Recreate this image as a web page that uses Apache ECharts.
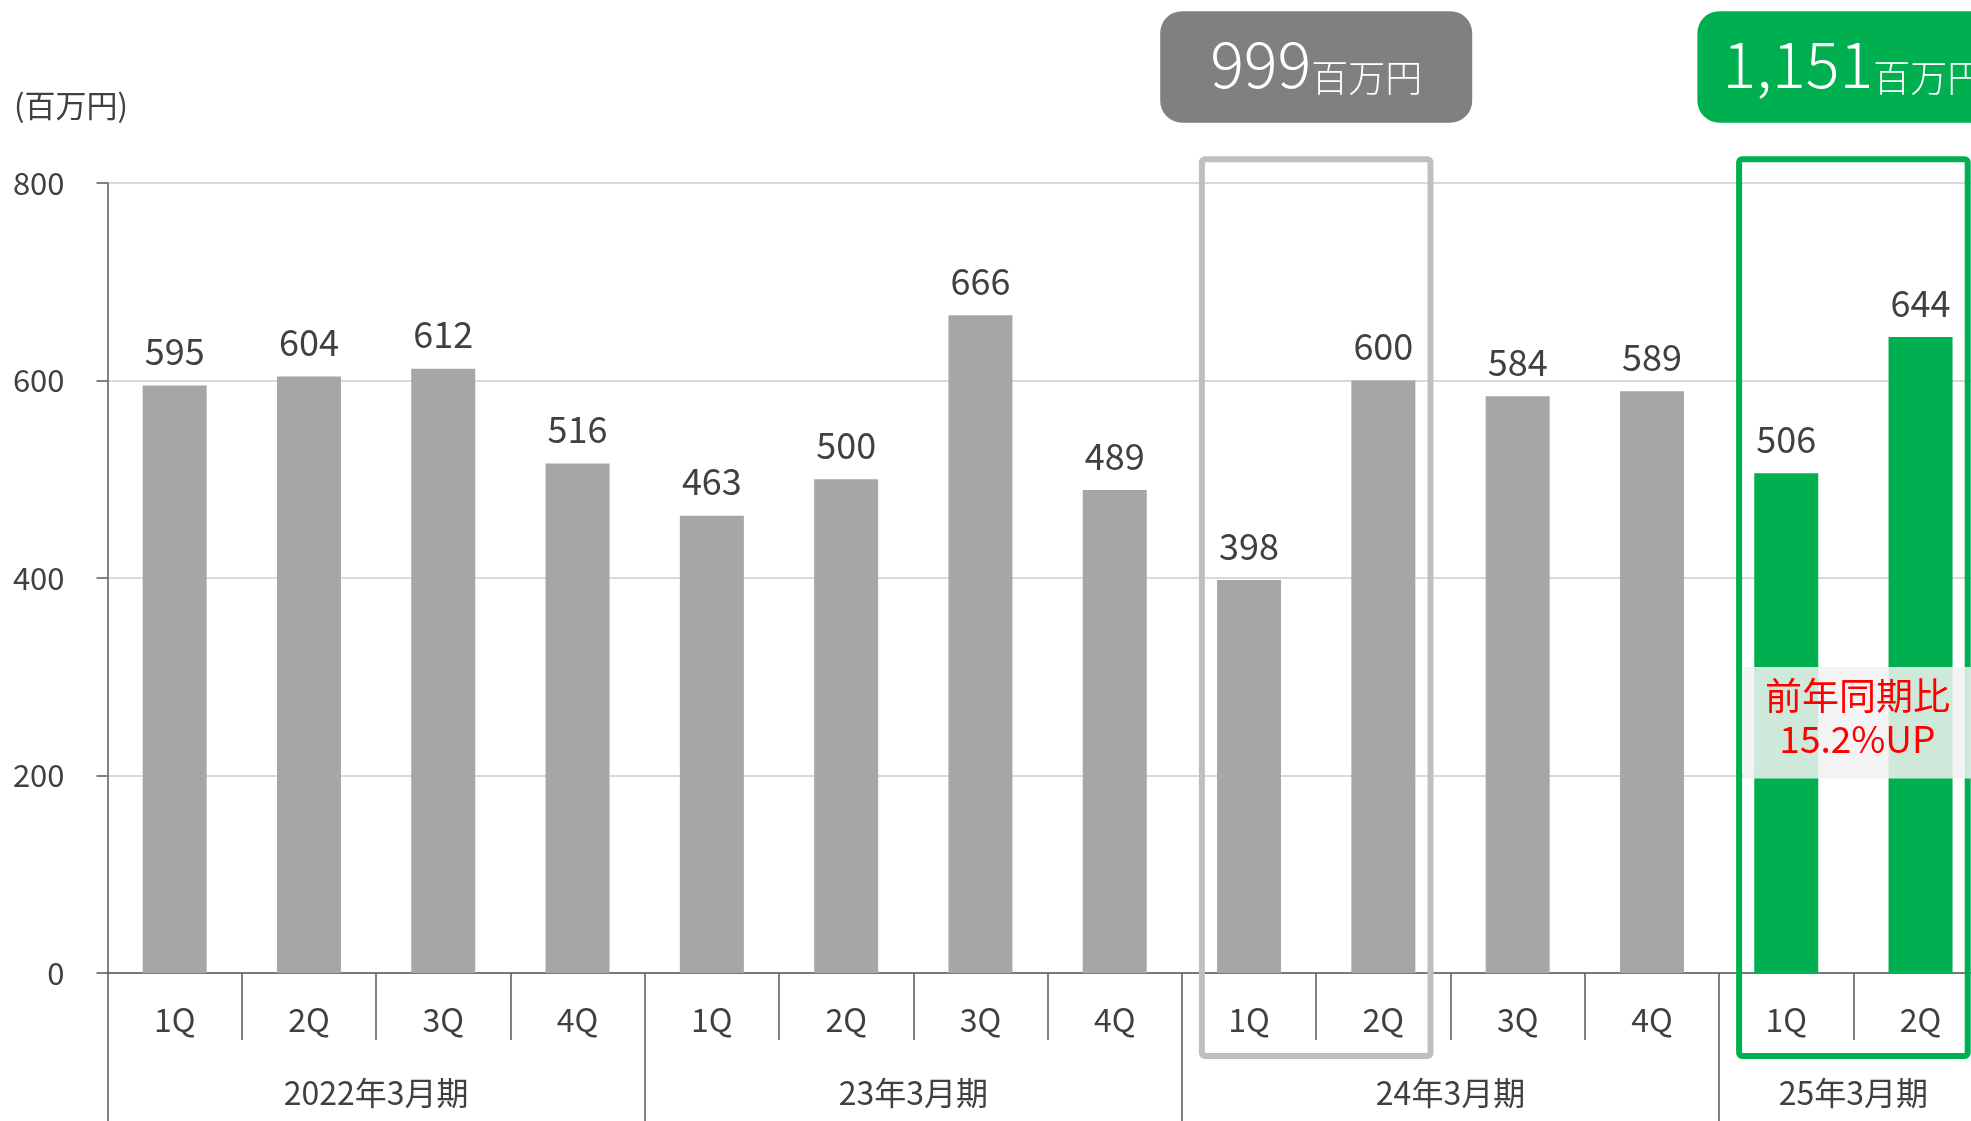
<!DOCTYPE html>
<html>
<head>
<meta charset="utf-8">
<script src="https://cdn.jsdelivr.net/npm/echarts@6/dist/echarts.min.js"></script>
<style>
html,body{margin:0;padding:0;background:#ffffff;}
#c{width:1971px;height:1121px;}
</style>
</head>
<body>
<div id="c"></div>
<script>
// ---------- data ----------
const quarters = ['1Q','2Q','3Q','4Q','1Q','2Q','3Q','4Q','1Q','2Q','3Q','4Q','1Q','2Q'];
const sales = [595,604,612,516,463,500,666,489,398,600,584,589,506,644];
const fiscalYears = ['2022年3月期','23年3月期','24年3月期','25年3月期'];
const fiscalYearSizes = [4,4,4,2];
const highlightIdx = [12,13];
const compareStarts = [8,12];
const compareTotals = ['999','1,151'];
const unitLabel = '百万円';
const axisUnit = '(百万円)';
const growthText = ['前年同期比','15.2%UP'];
const yMin = 0, yMax = 800, yStep = 200;

// ---------- layout / style ----------
const FONT = "'Noto Sans CJK JP','Noto Sans',sans-serif";
const GRID_LEFT = 107.5, GRID_TOP = 183, GRID_H = 790;
const BAND = 134.3;
const GRID_W = BAND * quarters.length;
const AXIS_COLOR = '#595959';
const TEXT_COLOR = '#404040';
const GRAY = '#A6A6A6', GREEN = '#00B050';
const boxColors = ['#808080', GREEN];
const outlineColors = ['#BFBFBF', GREEN];

// year axis labels placed on the category left of each group's centre, shifted half a band
const yearAxisData = new Array(quarters.length).fill('');
const groupStarts = new Set();
let pos = 0;
fiscalYears.forEach((y, k) => {
  groupStarts.add(pos);
  yearAxisData[pos + fiscalYearSizes[k] / 2 - 1] = y;
  pos += fiscalYearSizes[k];
});

const option = {
  animation: false,
  backgroundColor: '#ffffff',
  textStyle: { fontFamily: FONT },
  title: {
    text: axisUnit, left: 9, top: 85,
    textStyle: { fontSize: 31, fontWeight: 'normal', color: TEXT_COLOR, fontFamily: FONT }
  },
  grid: { left: GRID_LEFT, top: GRID_TOP, width: GRID_W, height: GRID_H, containLabel: false, outerBoundsMode: 'none' },
  xAxis: [
    {
      type: 'category', data: quarters, position: 'bottom',
      axisLine: { show: true, lineStyle: { color: AXIS_COLOR, width: 1.5 } },
      axisTick: { show: true, interval: 0, length: 67, lineStyle: { color: AXIS_COLOR, width: 1.5 } },
      axisLabel: { interval: 0, margin: 31, fontSize: 32, color: TEXT_COLOR, fontFamily: FONT },
      splitLine: { show: false }
    },
    {
      type: 'category', data: yearAxisData, position: 'bottom',
      axisLine: { show: false },
      axisTick: { show: true, interval: (i) => groupStarts.has(i), length: 150, lineStyle: { color: AXIS_COLOR, width: 1.5 } },
      axisLabel: {
        interval: 0, margin: 104, hideOverlap: false,
        formatter: (v) => v ? '{y|' + v + '}' : '',
        rich: { y: { fontSize: 32, color: TEXT_COLOR, fontFamily: FONT, padding: [0, 0, 0, BAND] } }
      },
      splitLine: { show: false }
    }
  ],
  yAxis: {
    type: 'value', min: yMin, max: yMax, interval: yStep,
    axisLine: { show: true, lineStyle: { color: AXIS_COLOR, width: 1.5 } },
    axisTick: { show: true, length: 11, lineStyle: { color: AXIS_COLOR, width: 1.5 } },
    axisLabel: { margin: 43, fontSize: 31, color: TEXT_COLOR, fontFamily: FONT },
    splitLine: { show: true, lineStyle: { color: '#D9D9D9', width: 2 } }
  },
  series: [{
    type: 'bar', xAxisIndex: 0, yAxisIndex: 0,
    barWidth: 64,
    data: sales.map((v, i) => ({ value: v, itemStyle: { color: highlightIdx.includes(i) ? GREEN : GRAY } })),
    label: { show: true, position: 'top', distance: 16, fontSize: 36, color: TEXT_COLOR, fontFamily: FONT }
  }]
};

const chart = echarts.init(document.getElementById('c'), null, { renderer: 'canvas' });
chart.setOption(option);

const px = (i, v) => chart.convertToPixel({ xAxisIndex: 0, yAxisIndex: 0 }, [i, v]);
const bw = px(1, 0)[0] - px(0, 0)[0];
const els = [];
compareStarts.forEach((s, k) => {
  const cx = px(s, 0)[0] + bw / 2;
  const oTop = px(0, 824)[1], oBot = px(0, -84)[1];
  els.push({
    type: 'rect', z: 100,
    shape: { x: cx - bw + 20, y: oTop, width: 2 * bw - 40, height: oBot - oTop, r: 3 },
    style: { fill: 'none', stroke: outlineColors[k], lineWidth: 6 }
  });
  const bTop = px(0, 974)[1], bBot = px(0, 861)[1];
  els.push({
    type: 'rect', z: 100,
    shape: { x: cx - 156, y: bTop, width: 312, height: bBot - bTop, r: 22 },
    style: { fill: boxColors[k] }
  });
  els.push({
    type: 'text', z: 101, x: cx, y: (bTop + bBot) / 2 - 6,
    style: {
      text: '{b|' + compareTotals[k] + '}{s|' + unitLabel + '}',
      align: 'center', verticalAlign: 'middle',
      rich: {
        b: { fontSize: 63, fontWeight: 300, fill: '#ffffff', color: '#ffffff', fontFamily: FONT, verticalAlign: 'bottom', lineHeight: 70 },
        s: { fontSize: 37, fontWeight: 300, fill: '#ffffff', color: '#ffffff', fontFamily: FONT, verticalAlign: 'bottom', lineHeight: 70 }
      }
    }
  });
});
// growth callout within the highlighted group
{
  const s = compareStarts[1];
  const cx = px(s, 0)[0] + bw / 2;
  const left = cx - bw + 24;
  const top = px(0, 310)[1], bot = px(0, 197)[1];
  els.push({
    type: 'rect', z: 110,
    shape: { x: left, y: top, width: 2 * bw, height: bot - top },
    style: { fill: 'rgba(242,242,242,0.85)' }
  });
  els.push({
    type: 'text', z: 111, x: cx + 4, y: (top + bot) / 2 - 5,
    style: {
      text: growthText.join('\n'), align: 'center', verticalAlign: 'middle',
      fontSize: 37, lineHeight: 43, fill: '#FF0000', fontFamily: FONT
    }
  });
}
chart.setOption({ graphic: { elements: els } });
</script>
</body>
</html>
